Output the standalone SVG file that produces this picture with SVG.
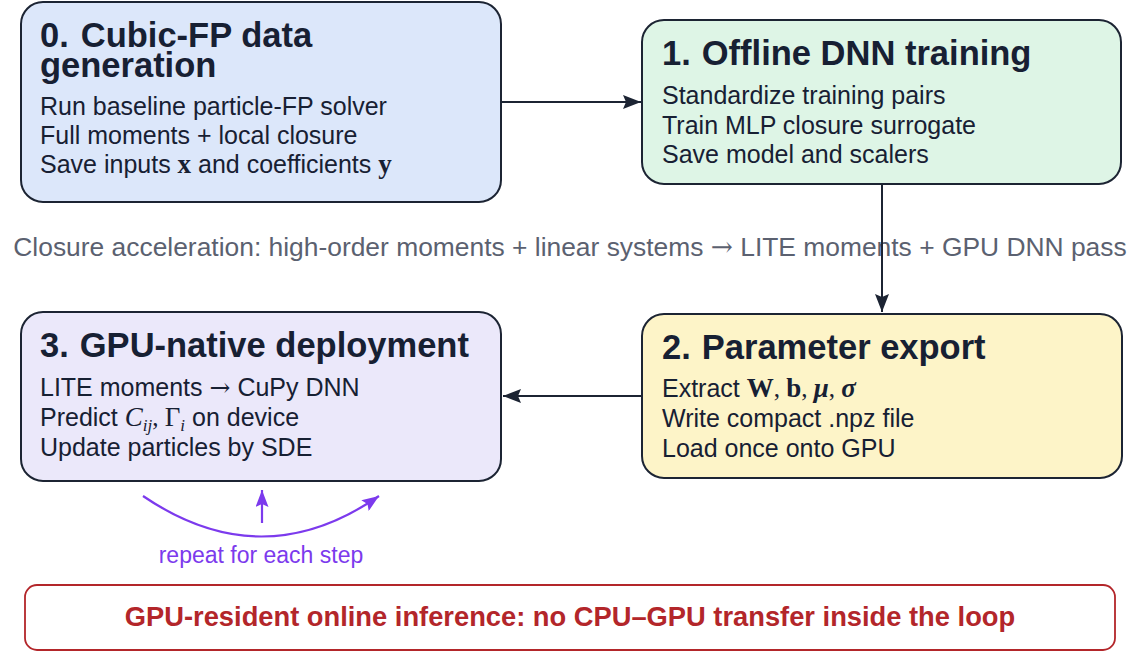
<svg xmlns="http://www.w3.org/2000/svg" width="1140" height="653" viewBox="0 0 1140 653">
  <defs>
    <marker id="head" markerUnits="userSpaceOnUse" markerWidth="18" markerHeight="14" viewBox="0 0 18 14" refX="18" refY="7" orient="auto">
      <path d="M0,0 L18,7 L0,14 L3,7 Z" fill="#1c2433"/>
    </marker>
    <marker id="headPurple" markerUnits="userSpaceOnUse" markerWidth="17" markerHeight="13" viewBox="0 0 17 13" refX="17" refY="6.5" orient="auto">
      <path d="M0,0 L17,6.5 L0,13 L3,6.5 Z" fill="#7c3aed"/>
    </marker>
  </defs>
  <style>
    .box { stroke: #1c2433; stroke-width: 2; }
    .title { font-family: "Liberation Sans", Arial, sans-serif; font-weight: bold; font-size: 34.5px; fill: #172033; }
    .body { font-family: "Liberation Sans", Arial, sans-serif; font-size: 25px; fill: #172033; }
    .math { font-family: "Liberation Serif", "Times New Roman", serif; }
    .arrow { font-family: "DejaVu Serif", serif; }
    .mb { font-family: "Liberation Serif", "Times New Roman", serif; font-weight: bold; font-size: 27px; }
    .mi { font-family: "Liberation Serif", "Times New Roman", serif; font-style: italic; }
    .note { font-family: "Liberation Sans", Arial, sans-serif; font-size: 26.4px; fill: #5b6170; }
    .link { stroke: #1c2433; stroke-width: 2; fill: none; }
    .loop { stroke: #7c3aed; stroke-width: 2.2; fill: none; }
  </style>
  <rect width="1140" height="653" fill="#ffffff"/>

  <!-- stage 0 -->
  <g id="stage0">
    <rect class="box" x="21" y="2" width="480" height="200" rx="22" fill="#dce7fa"/>
    <text class="title" x="40" y="47">0.<tspan dx="12">Cubic-FP data</tspan><tspan x="40" dy="30">generation</tspan></text>
    <text class="body" x="40" y="115">Run baseline particle-FP solver</text>
    <text class="body" x="40" y="144">Full moments + local closure</text>
    <text class="body" x="40" y="173">Save inputs <tspan class="mb">x</tspan> and coefficients <tspan class="mb">y</tspan></text>
  </g>

  <!-- stage 1 -->
  <g id="stage1">
    <rect class="box" x="642" y="20" width="479" height="164" rx="22" fill="#def5e6"/>
    <text class="title" x="662" y="65">1.<tspan dx="11">Offline DNN training</tspan></text>
    <text class="body" x="662" y="104">Standardize training pairs</text>
    <text class="body" x="662" y="134">Train MLP closure surrogate</text>
    <text class="body" x="662" y="163">Save model and scalers</text>
  </g>

  <!-- stage 2 -->
  <g id="stage2">
    <rect class="box" x="642" y="314" width="480" height="164" rx="22" fill="#fdf4c8"/>
    <text class="title" x="662" y="359">2.<tspan dx="11">Parameter export</tspan></text>
    <text class="body" x="662" y="397">Extract <tspan class="mb">W</tspan><tspan class="math">, </tspan><tspan class="mb">b</tspan><tspan class="math">, </tspan><tspan class="mb" font-style="italic">μ</tspan><tspan class="math">, </tspan><tspan class="mb" font-style="italic">σ</tspan></text>
    <text class="body" x="662" y="427">Write compact .npz file</text>
    <text class="body" x="662" y="457">Load once onto GPU</text>
  </g>

  <!-- stage 3 -->
  <g id="stage3">
    <rect class="box" x="21" y="312" width="480" height="169" rx="22" fill="#ebe8fa"/>
    <text class="title" x="40" y="357">3.<tspan dx="11">GPU-native deployment</tspan></text>
    <text class="body" x="40" y="396">LITE moments <tspan class="arrow">→</tspan> CuPy DNN</text>
    <text class="body" x="40" y="426">Predict <tspan class="mi" font-size="27">C</tspan><tspan class="mi" font-size="17" dy="5">ij</tspan><tspan class="math" dy="-5">, </tspan><tspan class="math" font-size="27">Γ</tspan><tspan class="mi" font-size="17" dy="5">i</tspan><tspan dy="-5"> on device</tspan></text>
    <text class="body" x="40" y="456">Update particles by SDE</text>
  </g>

  <!-- caption between the rows -->
  <text id="caption" class="note" x="570" y="256" text-anchor="middle">Closure acceleration: high-order moments + linear systems <tspan class="arrow">→</tspan> LITE moments + GPU DNN pass</text>

  <!-- connectors -->
  <g id="connectors">
    <line class="link" x1="501" y1="102" x2="641" y2="102" marker-end="url(#head)"/>
    <line class="link" x1="882" y1="184" x2="882" y2="312" marker-end="url(#head)"/>
    <line class="link" x1="642" y1="396" x2="503" y2="396" marker-end="url(#head)"/>
  </g>

  <!-- per-step loop -->
  <g id="loop">
    <path class="loop" d="M143,496 Q262,577 379,496" marker-end="url(#headPurple)"/>
    <line class="loop" x1="262" y1="523" x2="262" y2="490" marker-end="url(#headPurple)"/>
    <text x="261" y="563" text-anchor="middle" font-family="Liberation Sans, Arial, sans-serif" font-size="23" fill="#7c3aed">repeat for each step</text>
  </g>

  <!-- banner -->
  <g id="banner">
    <rect x="25" y="585" width="1090" height="65" rx="12" fill="#ffffff" stroke="#b3262a" stroke-width="1.8"/>
    <text x="570" y="626" text-anchor="middle" font-family="Liberation Sans, Arial, sans-serif" font-weight="bold" font-size="27.3" fill="#b3262a">GPU-resident online inference: no CPU–GPU transfer inside the loop</text>
  </g>
</svg>
